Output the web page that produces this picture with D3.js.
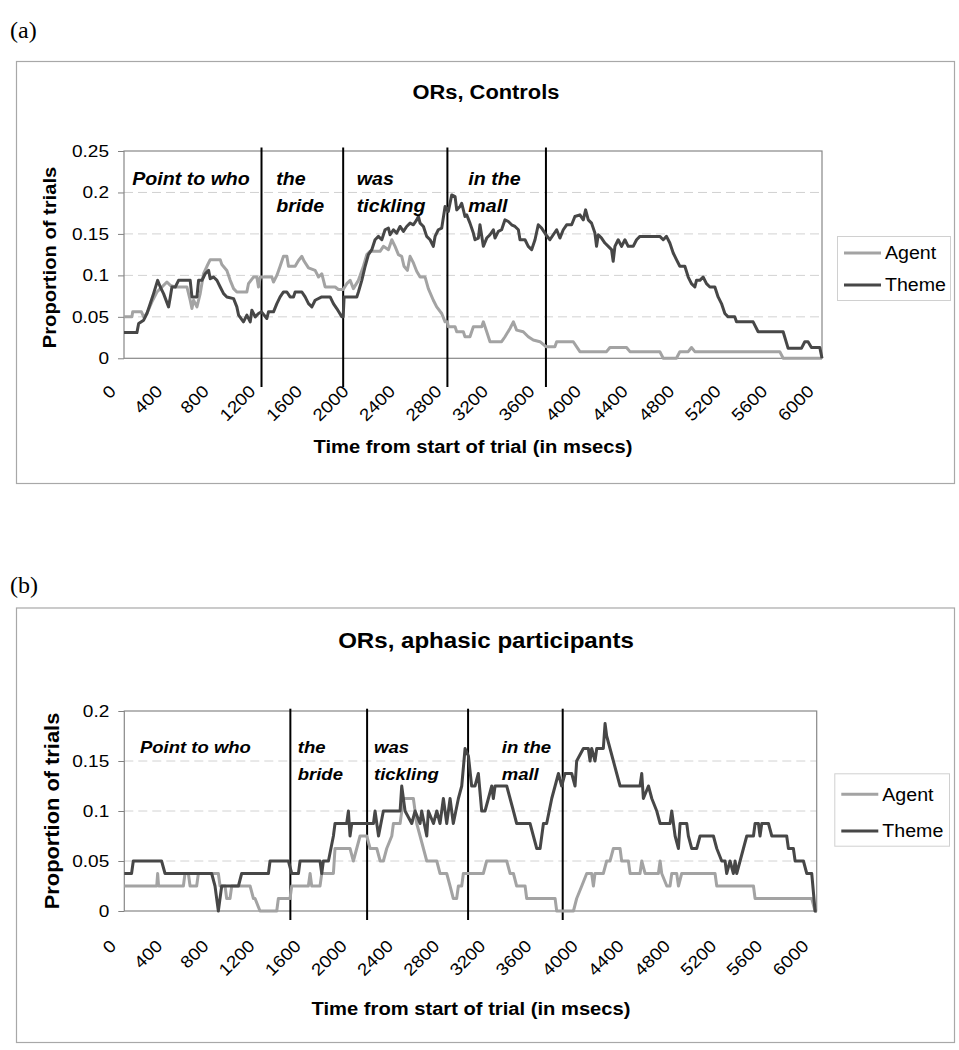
<!DOCTYPE html>
<html><head><meta charset="utf-8">
<script src="https://cdn.jsdelivr.net/npm/d3@7"></script>
<style>
html,body{margin:0;padding:0;background:#fff;}
svg{display:block;}
text{font-family:"Liberation Sans",Arial,sans-serif;fill:#000;}
</style></head><body>
<svg id="chart" width="959" height="1050"></svg>
<script>
// ---------- DATA ----------
const seriesNames = ["Agent", "Theme"];
const xTickValues = [0,400,800,1200,1600,2000,2400,2800,3200,3600,4000,4400,4800,5200,5600,6000];
const yTicksA = [0, 0.05, 0.1, 0.15, 0.2, 0.25];
const yTicksB = [0, 0.05, 0.1, 0.15, 0.2];
const phrases = ["Point to who", "the\nbride", "was\ntickling", "in the\nmall"];
const eventTimesA = [1182, 1884, 2780, 3627];
const eventTimesB = [1439, 2104, 2979, 3799];
const phraseTimesA = [71, 1308, 2001, 2960];
const phraseTimesB = [136, 1503, 2164, 3271];

// (a) ORs, Controls  [time ms, proportion]
const agentA = [[0,0.05],[68,0.05],[75,0.056],[150,0.056],[169,0.05],[197,0.054],[240,0.068],[283,0.08],[312,0.084],[369,0.092],[398,0.088],[441,0.086],[541,0.086],[569,0.07],[584,0.06],[598,0.07],[627,0.062],[655,0.078],[684,0.102],[713,0.111],[741,0.119],[827,0.119],[841,0.113],[884,0.106],[913,0.094],[942,0.084],[970,0.08],[1056,0.08],[1070,0.09],[1113,0.098],[1142,0.098],[1156,0.086],[1171,0.098],[1271,0.098],[1285,0.092],[1314,0.1],[1342,0.111],[1371,0.123],[1400,0.123],[1414,0.111],[1471,0.111],[1500,0.118],[1529,0.123],[1549,0.117],[1586,0.109],[1643,0.106],[1672,0.098],[1700,0.102],[1729,0.086],[1815,0.086],[1843,0.083],[1884,0.083],[1915,0.09],[1944,0.094],[1972,0.084],[2015,0.094],[2058,0.111],[2087,0.125],[2115,0.129],[2201,0.129],[2230,0.135],[2273,0.131],[2302,0.143],[2330,0.135],[2359,0.125],[2387,0.123],[2407,0.111],[2436,0.106],[2459,0.123],[2488,0.115],[2516,0.105],[2545,0.098],[2588,0.098],[2616,0.084],[2659,0.07],[2688,0.062],[2731,0.054],[2760,0.044],[2780,0.044],[2788,0.038],[2846,0.038],[2860,0.032],[2917,0.032],[2931,0.026],[2974,0.026],[3003,0.038],[3075,0.038],[3089,0.044],[3118,0.032],[3146,0.02],[3246,0.02],[3275,0.026],[3318,0.036],[3347,0.044],[3375,0.034],[3432,0.032],[3475,0.026],[3518,0.022],[3576,0.02],[3627,0.014],[3704,0.014],[3719,0.02],[3862,0.02],[3919,0.008],[4148,0.008],[4177,0.013],[4320,0.013],[4349,0.008],[4606,0.008],[4635,0],[4749,0],[4778,0.008],[4850,0.008],[4878,0.013],[4907,0.008],[5637,0.008],[5666,0],[6000,0]];
const themeA = [[0,0.031],[111,0.031],[126,0.042],[169,0.046],[197,0.054],[226,0.066],[254,0.078],[289,0.094],[312,0.086],[340,0.078],[383,0.062],[398,0.074],[412,0.086],[441,0.086],[469,0.094],[569,0.094],[584,0.074],[627,0.074],[641,0.094],[670,0.094],[698,0.102],[727,0.106],[741,0.096],[770,0.098],[799,0.094],[827,0.086],[856,0.078],[884,0.074],[942,0.072],[970,0.062],[985,0.052],[1027,0.044],[1056,0.052],[1085,0.044],[1099,0.058],[1128,0.05],[1156,0.054],[1182,0.056],[1228,0.048],[1242,0.056],[1285,0.056],[1314,0.066],[1342,0.074],[1371,0.08],[1400,0.08],[1428,0.074],[1457,0.074],[1471,0.08],[1529,0.08],[1557,0.074],[1586,0.066],[1615,0.062],[1643,0.07],[1700,0.074],[1772,0.074],[1800,0.066],[1829,0.06],[1872,0.05],[1884,0.05],[1892,0.074],[2001,0.074],[2015,0.08],[2044,0.094],[2073,0.111],[2101,0.125],[2130,0.131],[2158,0.143],[2187,0.147],[2216,0.143],[2244,0.155],[2273,0.157],[2287,0.149],[2316,0.155],[2344,0.151],[2373,0.159],[2402,0.153],[2430,0.159],[2459,0.163],[2488,0.161],[2516,0.167],[2531,0.171],[2545,0.163],[2574,0.159],[2602,0.147],[2631,0.143],[2659,0.135],[2674,0.147],[2702,0.155],[2731,0.157],[2760,0.183],[2774,0.181],[2788,0.177],[2817,0.197],[2846,0.195],[2860,0.179],[2888,0.183],[2903,0.187],[2931,0.171],[2946,0.173],[2974,0.163],[3003,0.151],[3017,0.143],[3046,0.145],[3060,0.161],[3089,0.135],[3118,0.145],[3146,0.149],[3175,0.155],[3189,0.145],[3218,0.153],[3246,0.155],[3275,0.167],[3304,0.165],[3332,0.161],[3361,0.159],[3390,0.155],[3404,0.143],[3447,0.143],[3475,0.135],[3504,0.131],[3533,0.143],[3561,0.161],[3590,0.157],[3627,0.149],[3661,0.143],[3690,0.149],[3719,0.155],[3747,0.145],[3776,0.155],[3805,0.161],[3848,0.161],[3876,0.171],[3919,0.173],[3948,0.167],[3968,0.179],[3991,0.167],[4019,0.163],[4048,0.151],[4062,0.135],[4077,0.149],[4105,0.145],[4134,0.139],[4163,0.135],[4191,0.131],[4205,0.117],[4220,0.135],[4248,0.143],[4277,0.135],[4306,0.143],[4334,0.135],[4377,0.135],[4406,0.143],[4435,0.147],[4606,0.147],[4635,0.143],[4663,0.147],[4692,0.139],[4721,0.127],[4749,0.119],[4778,0.111],[4821,0.111],[4850,0.098],[4878,0.09],[4907,0.086],[4921,0.094],[4950,0.094],[4978,0.098],[5007,0.09],[5036,0.086],[5079,0.086],[5107,0.074],[5136,0.066],[5165,0.054],[5193,0.05],[5250,0.05],[5265,0.044],[5408,0.044],[5451,0.032],[5666,0.032],[5709,0.012],[5823,0.012],[5852,0.02],[5880,0.02],[5909,0.013],[5981,0.013],[6000,0]];

// (b) ORs, aphasic participants  [time ms, proportion]
const agentB = [[0,0.025],[281,0.025],[289,0.0375],[297,0.025],[512,0.025],[526,0.0375],[555,0.0375],[570,0.025],[627,0.025],[642,0.0375],[815,0.0375],[830,0.025],[873,0.025],[887,0.0125],[916,0.0125],[931,0.025],[1090,0.025],[1119,0.0125],[1133,0.0125],[1176,0],[1321,0],[1335,0.0125],[1436,0.0125],[1451,0.025],[1595,0.025],[1610,0.0375],[1624,0.025],[1696,0.025],[1711,0.0375],[1812,0.0375],[1826,0.0625],[1956,0.0625],[1985,0.05],[2014,0.0625],[2043,0.075],[2101,0.075],[2130,0.0625],[2188,0.0625],[2217,0.05],[2245,0.05],[2274,0.0625],[2318,0.075],[2332,0.0875],[2390,0.0875],[2419,0.1125],[2505,0.1125],[2534,0.0875],[2563,0.075],[2592,0.0625],[2621,0.05],[2708,0.05],[2736,0.0375],[2794,0.0375],[2823,0.025],[2851,0.0125],[2880,0.0125],[2895,0.025],[2924,0.025],[2938,0.0375],[3111,0.0375],[3140,0.05],[3314,0.05],[3343,0.0375],[3372,0.0375],[3400,0.025],[3473,0.025],[3487,0.0125],[3733,0.0125],[3747,0],[3892,0],[3920,0.0125],[3964,0.025],[4007,0.0375],[4050,0.0375],[4065,0.025],[4079,0.0375],[4151,0.0375],[4180,0.05],[4209,0.05],[4238,0.0625],[4296,0.0625],[4310,0.05],[4368,0.05],[4383,0.0375],[4469,0.0375],[4484,0.05],[4513,0.0375],[4628,0.0375],[4643,0.05],[4657,0.0375],[4701,0.025],[4729,0.025],[4744,0.0375],[4787,0.0375],[4802,0.025],[4830,0.0375],[5119,0.0375],[5134,0.025],[5452,0.025],[5466,0.0125],[5957,0.0125],[5986,0],[6000,0]];
const themeB = [[0,0.0375],[63,0.0375],[78,0.05],[323,0.05],[353,0.0375],[757,0.0375],[786,0.025],[815,0],[844,0.025],[989,0.025],[1017,0.0375],[1249,0.0375],[1263,0.05],[1422,0.05],[1451,0.0375],[1509,0.0375],[1523,0.05],[1696,0.05],[1711,0.0375],[1725,0.05],[1769,0.05],[1812,0.075],[1826,0.0875],[1927,0.0875],[1942,0.1],[1956,0.075],[1971,0.0875],[2159,0.0875],[2173,0.1],[2203,0.075],[2245,0.1],[2390,0.1],[2404,0.125],[2433,0.1],[2491,0.0875],[2520,0.1],[2563,0.0875],[2577,0.1],[2621,0.075],[2635,0.1],[2679,0.0875],[2708,0.1],[2736,0.0875],[2765,0.1125],[2794,0.0875],[2823,0.1125],[2851,0.0875],[2895,0.1125],[2924,0.125],[2953,0.1625],[2982,0.155],[3010,0.125],[3039,0.125],[3068,0.1375],[3097,0.1],[3126,0.1],[3155,0.1125],[3184,0.125],[3198,0.1125],[3213,0.125],[3314,0.125],[3343,0.1125],[3372,0.1],[3400,0.0875],[3516,0.0875],[3545,0.075],[3574,0.0625],[3603,0.0625],[3632,0.0875],[3660,0.0875],[3704,0.1125],[3762,0.1375],[3790,0.125],[3819,0.1375],[3877,0.1375],[3906,0.125],[3920,0.15],[3978,0.1625],[4021,0.1625],[4036,0.15],[4050,0.1625],[4079,0.15],[4094,0.1625],[4151,0.1625],[4166,0.1875],[4180,0.175],[4209,0.1625],[4238,0.15],[4267,0.1375],[4296,0.125],[4469,0.125],[4484,0.1375],[4498,0.1125],[4542,0.125],[4571,0.1125],[4614,0.1],[4643,0.0875],[4729,0.0875],[4744,0.1],[4773,0.075],[4802,0.0625],[4816,0.0875],[4874,0.0875],[4888,0.075],[4917,0.0625],[4960,0.0625],[4989,0.075],[5105,0.075],[5134,0.0625],[5177,0.05],[5206,0.05],[5220,0.0375],[5249,0.05],[5278,0.0375],[5293,0.05],[5307,0.0375],[5336,0.05],[5365,0.0625],[5394,0.075],[5452,0.075],[5466,0.0875],[5495,0.0875],[5509,0.075],[5524,0.0875],[5582,0.0875],[5611,0.075],[5740,0.075],[5755,0.0625],[5798,0.0625],[5813,0.05],[5885,0.05],[5914,0.0375],[5957,0.0375],[5986,0],[6000,0]];

// ---------- LAYOUT ----------
const panels = [
  {letter:"(a)", letterY:38, title:"ORs, Controls", titleY:99, titleSize:19.5,
   box:[16,61,954,483], left:124, right:822, top:151, bottom:358.3, yMax:0.25, yTicks:yTicksA,
   evTop:147.5, evBottom:387, events:eventTimesA, phraseT:phraseTimesA, phraseSize:17.5, phraseY1:185, phraseGap:26.7,
   ytX:56, ytCY:257.5, ytSize:18, xtY:453, xtCX:473, xtSize:18, xlabOff:34,
   legend:[837,236,950,300], legY:[253,285], agent:agentA, theme:themeA},
  {letter:"(b)", letterY:593, title:"ORs, aphasic participants", titleY:648, titleSize:21.5,
   box:[16,607.5,954,1042], left:124.3, right:816.7, top:711, bottom:911, yMax:0.2, yTicks:yTicksB,
   evTop:708.7, evBottom:920, events:eventTimesB, phraseT:phraseTimesB, phraseSize:16.5, phraseY1:752.7, phraseGap:27.3,
   ytX:59, ytCY:811, ytSize:19.5, xtY:1015, xtCX:471, xtSize:18, xlabOff:36,
   legend:[834.3,773.3,949,845.7], legY:[794.3,831], agent:agentB, theme:themeB}
];
const colors = {Agent:"#a3a3a3", Theme:"#474747"};
const K = 1.12;
const svg = d3.select("#chart");
function stretch(sel){ sel.each(function(){ const w=this.getComputedTextLength(); this.setAttribute("textLength", (w*K).toFixed(2)); this.setAttribute("lengthAdjust","spacingAndGlyphs"); }); return sel; }

panels.forEach(p => {
  const g = svg.append("g");
  g.append("rect").attr("x",p.box[0]+0.5).attr("y",p.box[1]+0.5)
    .attr("width",p.box[2]-p.box[0]).attr("height",p.box[3]-p.box[1])
    .attr("fill","#fff").attr("stroke","#a8a8a8").attr("stroke-width",1.2);
  g.append("text").attr("x",10).attr("y",p.letterY)
    .style("font-family",'"Liberation Serif","Times New Roman",serif').style("font-size","24px").text(p.letter);

  const x = d3.scaleLinear().domain([0,6000]).range([p.left,p.right]);
  const y = d3.scaleLinear().domain([0,p.yMax]).range([p.bottom,p.top]);

  // title
  stretch(g.append("text").attr("x",486).attr("y",p.titleY).attr("text-anchor","middle")
    .attr("font-weight","bold").attr("font-size",p.titleSize).text(p.title));

  // gridlines
  g.append("g").selectAll("line").data(p.yTicks.filter(d=>d>0 && d<p.yMax)).join("line")
    .attr("x1",p.left).attr("x2",p.right).attr("y1",d=>y(d)).attr("y2",d=>y(d))
    .attr("stroke","#d2d2d2").attr("stroke-width",1).attr("stroke-dasharray","9,5");

  // y axis
  const ya = g.append("g").attr("transform",`translate(${p.left},0)`)
    .call(d3.axisLeft(y).tickValues(p.yTicks).tickFormat(d=>String(d)).tickSize(6).tickPadding(9));
  ya.select(".domain").remove();
  ya.selectAll(".tick line").attr("stroke","#808080");
  ya.selectAll(".tick text").attr("font-size",17).style("font-family",'"Liberation Sans",Arial,sans-serif').attr("fill","#000");
  stretch(ya.selectAll(".tick text"));

  // plot border
  g.append("rect").attr("x",p.left).attr("y",p.top).attr("width",p.right-p.left).attr("height",p.bottom-p.top)
    .attr("fill","none").attr("stroke","#888").attr("stroke-width",1.2);

  // x tick labels (rotated)
  const xl = g.append("g").selectAll("text").data(xTickValues).join("text")
    .attr("transform",d=>`translate(${x(d)-7},${p.bottom+p.xlabOff}) rotate(-45)`)
    .attr("text-anchor","end").attr("font-size",17).text(d=>d);
  stretch(xl);

  // event lines
  g.append("g").selectAll("line").data(p.events).join("line")
    .attr("x1",d=>x(d)).attr("x2",d=>x(d)).attr("y1",p.evTop).attr("y2",p.evBottom)
    .attr("stroke","#000").attr("stroke-width",2);

  // series
  const line = d3.line().x(d=>x(d[0])).y(d=>y(d[1]));
  [["Agent",p.agent],["Theme",p.theme]].forEach(([name,data]) => {
    g.append("path").datum(data).attr("d",line).attr("fill","none")
      .attr("stroke",colors[name]).attr("stroke-width",3).attr("stroke-linejoin","round");
  });

  // phrase labels
  phrases.forEach((ph,i) => {
    ph.split("\n").forEach((s,j) => {
      stretch(g.append("text").attr("x",x(p.phraseT[i])).attr("y",p.phraseY1+j*p.phraseGap)
        .attr("font-weight","bold").attr("font-style","italic").attr("font-size",p.phraseSize).text(s));
    });
  });

  // axis titles
  stretch(g.append("text").attr("transform",`translate(${p.ytX},${p.ytCY}) rotate(-90)`)
    .attr("text-anchor","middle").attr("font-weight","bold").attr("font-size",p.ytSize).text("Proportion of trials"));
  stretch(g.append("text").attr("x",p.xtCX).attr("y",p.xtY).attr("text-anchor","middle")
    .attr("font-weight","bold").attr("font-size",p.xtSize).text("Time from start of trial (in msecs)"));

  // legend
  const L = p.legend;
  g.append("rect").attr("x",L[0]+0.5).attr("y",L[1]+0.5).attr("width",L[2]-L[0]).attr("height",L[3]-L[1])
    .attr("fill","#fff").attr("stroke","#d0d0d0");
  seriesNames.forEach((name,i) => {
    g.append("line").attr("x1",L[0]+7).attr("x2",L[0]+44).attr("y1",p.legY[i]).attr("y2",p.legY[i])
      .attr("stroke",colors[name]).attr("stroke-width",3);
    stretch(g.append("text").attr("x",L[0]+48).attr("y",p.legY[i]).attr("dy","0.36em")
      .attr("font-size",17.5).text(name));
  });
});
</script>
</body></html>
